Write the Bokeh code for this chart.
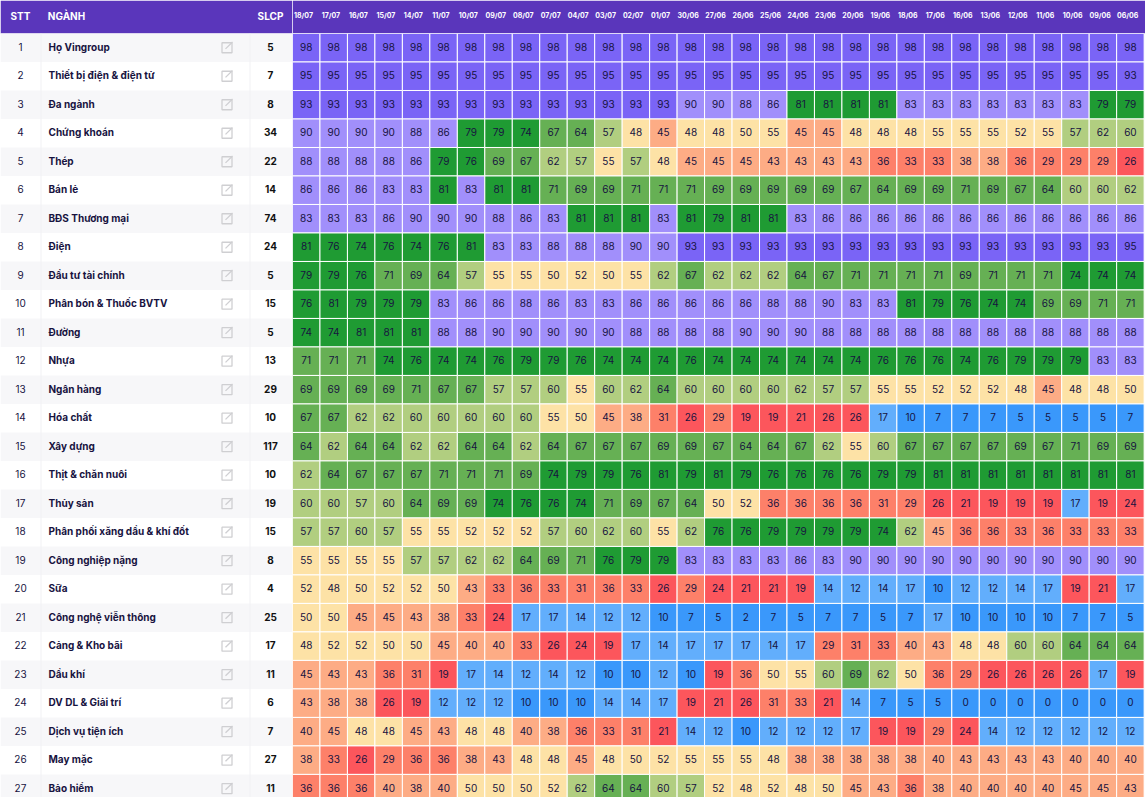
from bisect import bisect_right

from bokeh.core.properties import value
from bokeh.embed import file_html
from bokeh.layouts import row
from bokeh.models import ColumnDataSource, FixedTicker, Range1d
from bokeh.plotting import figure
from bokeh.resources import INLINE

dates = ["18/07", "17/07", "16/07", "15/07", "14/07", "11/07", "10/07", "09/07", "08/07", "07/07", "04/07",
         "03/07", "02/07", "01/07", "30/06", "27/06", "26/06", "25/06", "24/06", "23/06", "20/06", "19/06",
         "18/06", "17/06", "16/06", "13/06", "12/06", "11/06", "10/06", "09/06", "06/06"]

nganh = ["Họ Vingroup", "Thiết bị điện & điện tử", "Đa ngành", "Chứng khoán", "Thép", "Bán lẻ", "BĐS Thương mại",
         "Điện", "Đầu tư tài chính", "Phân bón & Thuốc BVTV", "Đường", "Nhựa", "Ngân hàng", "Hóa chất", "Xây dựng",
         "Thịt & chăn nuôi", "Thủy sản", "Phân phối xăng dầu & khí đốt", "Công nghiệp nặng", "Sữa",
         "Công nghệ viễn thông", "Cảng & Kho bãi", "Dầu khí", "DV DL & Giải trí", "Dịch vụ tiện ích", "May mặc",
         "Bảo hiểm"]

slcp = [5, 7, 8, 34, 22, 14, 74, 24, 5, 15, 5, 13, 29, 10, 117, 10, 19, 15, 8, 4, 25, 17, 11, 6, 7, 27, 11]

scores = [
    [98] * 31,
    [95] * 30 + [93],
    [93] * 14 + [90, 90, 88, 86, 81, 81, 81, 81, 83, 83, 83, 83, 83, 83, 83, 79, 79],
    [90, 90, 90, 90, 88, 86, 79, 79, 74, 67, 64, 57, 48, 45, 48, 48, 50, 55, 45, 45, 48, 48, 48, 55, 55, 55, 52, 55, 57, 62, 60],
    [88, 88, 88, 88, 86, 79, 76, 69, 67, 62, 57, 55, 57, 48, 45, 45, 45, 43, 43, 43, 43, 36, 33, 33, 38, 38, 36, 29, 29, 29, 26],
    [86, 86, 86, 83, 83, 81, 83, 81, 81, 71, 69, 69, 71, 71, 71, 69, 69, 69, 69, 69, 67, 64, 69, 69, 71, 69, 67, 64, 60, 60, 62],
    [83, 83, 83, 86, 90, 90, 90, 88, 86, 83, 81, 81, 81, 83, 81, 79, 81, 81, 83, 86, 86, 86, 86, 86, 86, 86, 86, 86, 86, 86, 86],
    [81, 76, 74, 76, 74, 76, 81, 83, 83, 88, 88, 88, 90, 90, 93, 93, 93, 93, 93, 93, 93, 93, 93, 93, 93, 93, 93, 93, 93, 93, 95],
    [79, 79, 76, 71, 69, 64, 57, 55, 55, 50, 52, 50, 55, 62, 67, 62, 62, 62, 64, 67, 71, 71, 71, 71, 69, 71, 71, 71, 74, 74, 74],
    [76, 81, 79, 79, 79, 83, 86, 86, 88, 86, 83, 83, 86, 86, 86, 86, 86, 88, 88, 90, 83, 83, 81, 79, 76, 74, 74, 69, 69, 71, 71],
    [74, 74, 81, 81, 81, 88, 88, 90, 90, 90, 90, 90, 88, 88, 88, 88, 90, 90, 90, 88, 88, 88, 88, 88, 88, 88, 88, 88, 88, 88, 88],
    [71, 71, 71, 74, 76, 74, 74, 76, 79, 79, 76, 74, 74, 74, 76, 74, 74, 74, 74, 74, 74, 76, 76, 76, 74, 76, 79, 79, 79, 83, 83],
    [69, 69, 69, 69, 71, 67, 67, 57, 57, 60, 55, 60, 62, 64, 60, 60, 60, 60, 62, 57, 57, 55, 55, 52, 52, 52, 48, 45, 48, 48, 50],
    [67, 67, 62, 62, 60, 60, 60, 60, 60, 55, 50, 45, 38, 31, 26, 29, 19, 19, 21, 26, 26, 17, 10, 7, 7, 7, 5, 5, 5, 5, 7],
    [64, 62, 64, 64, 62, 62, 64, 64, 62, 64, 67, 67, 67, 69, 69, 67, 64, 64, 67, 62, 55, 60, 67, 67, 67, 67, 69, 67, 71, 69, 69],
    [62, 64, 67, 67, 67, 71, 71, 71, 69, 74, 79, 79, 76, 81, 79, 81, 79, 76, 76, 76, 76, 79, 79, 81, 81, 81, 81, 81, 81, 81, 81],
    [60, 60, 57, 60, 64, 69, 69, 74, 76, 76, 74, 71, 69, 67, 64, 50, 52, 36, 36, 36, 36, 31, 29, 26, 21, 19, 19, 19, 17, 19, 24],
    [57, 57, 60, 57, 55, 55, 52, 52, 52, 57, 60, 62, 60, 55, 62, 76, 76, 79, 79, 79, 79, 74, 62, 45, 36, 36, 33, 36, 33, 33, 33],
    [55, 55, 55, 55, 57, 57, 62, 62, 64, 69, 71, 76, 79, 79, 83, 83, 83, 83, 86, 83, 90, 90, 90, 90, 90, 90, 90, 90, 90, 90, 90],
    [52, 48, 50, 52, 52, 50, 43, 33, 36, 33, 31, 36, 33, 26, 29, 24, 21, 21, 19, 14, 12, 14, 17, 10, 12, 12, 14, 17, 19, 21, 17],
    [50, 50, 45, 45, 43, 38, 33, 24, 17, 17, 14, 12, 12, 10, 7, 5, 2, 7, 5, 7, 7, 5, 7, 17, 10, 10, 10, 10, 7, 7, 5],
    [48, 52, 52, 50, 50, 45, 40, 40, 33, 26, 24, 19, 17, 14, 17, 17, 17, 14, 17, 29, 31, 33, 40, 43, 48, 48, 60, 60, 64, 64, 64],
    [45, 43, 43, 36, 31, 19, 17, 14, 12, 14, 12, 10, 10, 12, 10, 19, 36, 50, 55, 60, 69, 62, 50, 36, 29, 26, 26, 26, 26, 17, 19],
    [43, 38, 38, 26, 19, 12, 12, 12, 10, 10, 10, 14, 14, 17, 19, 21, 26, 31, 33, 21, 14, 7, 5, 5, 0, 0, 0, 0, 0, 0, 0],
    [40, 45, 48, 48, 45, 43, 48, 48, 40, 38, 36, 33, 31, 21, 14, 12, 10, 12, 12, 12, 17, 19, 19, 29, 24, 14, 12, 12, 12, 12, 12],
    [38, 33, 26, 29, 36, 36, 38, 43, 48, 48, 45, 48, 50, 52, 55, 55, 55, 48, 38, 38, 38, 38, 38, 40, 43, 43, 43, 43, 40, 40, 40],
    [36, 36, 36, 40, 38, 40, 50, 50, 50, 52, 62, 64, 64, 60, 57, 52, 48, 52, 48, 50, 45, 43, 36, 38, 40, 40, 40, 40, 45, 45, 43],
]

# nguong mau, gia tri nam trong khoang nao thi lay mau do
bins = [11, 18, 27, 37, 47, 56, 63, 73, 82, 92]
colors = ["#3a98fb", "#62aefc", "#fc565c", "#fd8069", "#fdac85", "#fde2a6", "#b1ce80", "#66b054", "#1f9b33", "#a18ffb", "#7a64f6"]

HEADER = "#5a36bb"
FONT = "Inter"
INK = "#17133f"

rows_visible = (26.31, -0.5)  # hang 27 bi cat o cuoi anh


def base_figure(width, x_range):
    p = figure(width=width, height=797, x_range=x_range, y_range=Range1d(*rows_visible),
               x_axis_location="above", y_axis_location=None, toolbar_location=None, output_backend="svg",
               min_border_top=33, min_border_bottom=0, min_border_left=0, min_border_right=0,
               outline_line_color=None, border_fill_color=HEADER, background_fill_color="white")
    p.grid.visible = False
    p.xaxis.axis_line_color = None
    p.xaxis.major_tick_line_color = None
    p.xaxis.minor_tick_line_color = None
    p.xaxis.major_label_text_color = "white"
    p.xaxis.major_label_text_font = FONT
    p.xaxis.major_label_text_font_style = "bold"
    p.xaxis.major_label_orientation = "horizontal"
    return p


# bang ben trai
left = base_figure(292, Range1d(0, 292))
left.xaxis.ticker = FixedTicker(ticks=[20, 66, 270])
left.xaxis.major_label_overrides = {20: "STT", 66: "NGÀNH", 270: "SLCP"}
left.xaxis.major_label_text_font_size = "10px"
left.xaxis.major_label_standoff = 6

row_ids = list(range(len(nganh)))
table = ColumnDataSource(data=dict(
    y=row_ids,
    stt=[str(i + 1) for i in row_ids],
    name=nganh,
    slcp=[str(v) for v in slcp],
))
striped = [i for i in row_ids if i % 2 == 0]
left.hbar(y=striped, left=0, right=292, height=1, fill_color="#f7f7f9", line_color=None)
left.segment(x0=[40.5, 249.5], x1=[40.5, 249.5], y0=-0.5, y1=27, line_color="#f1f1f4", line_width=1)

left.text(x=20, y="y", text="stt", source=table, text_align="center", text_baseline="middle", y_offset=-1,
          text_font=value(FONT), text_font_size="10px", text_color=INK)
left.text(x=48, y="y", text="name", source=table, text_align="left", text_baseline="middle", y_offset=-1,
          text_font=value(FONT), text_font_size="10px", text_font_style="bold", text_color=INK)
left.text(x=270, y="y", text="slcp", source=table, text_align="center", text_baseline="middle", y_offset=-1,
          text_font=value(FONT), text_font_size="10px", text_font_style="bold", text_color="#111111")

# icon mo link
left.scatter(x=226.5, y="y", source=table, marker="square", size=10, fill_color=None,
             line_color="#cfcfd2", line_width=1.3)
left.segment(x0=225, x1=232, y0=[i + 0.04 for i in row_ids], y1=[i - 0.2 for i in row_ids],
             line_color="#cfcfd2", line_width=1.3)

# heatmap
heat = base_figure(853, Range1d(-0.5, 30.55))
# nhan ngay lech trai so voi o mot chut
date_ticks = [i - 0.1 for i in range(len(dates))]
heat.xaxis.ticker = FixedTicker(ticks=date_ticks)
heat.xaxis.major_label_overrides = dict(zip(date_ticks, dates))
heat.xaxis.major_label_text_font_size = "7px"
heat.xaxis.major_label_standoff = 8

cells = dict(col=[], row=[], value=[], color=[])
for r, values in enumerate(scores):
    for c, v in enumerate(values):
        cells["col"].append(c)
        cells["row"].append(r)
        cells["value"].append(str(v))
        cells["color"].append(colors[bisect_right(bins, v)])
src = ColumnDataSource(data=cells)

heat.rect(x="col", y="row", width=1, height=1, source=src, fill_color="color", line_color="white", line_width=1)
heat.text(x="col", y="row", text="value", source=src, text_align="center", text_baseline="middle", y_offset=-1,
          text_font=value(FONT), text_font_size="10px", text_color=INK)

p = row(left, heat, spacing=0)

open("out.html", "w").write(file_html(p, INLINE))
